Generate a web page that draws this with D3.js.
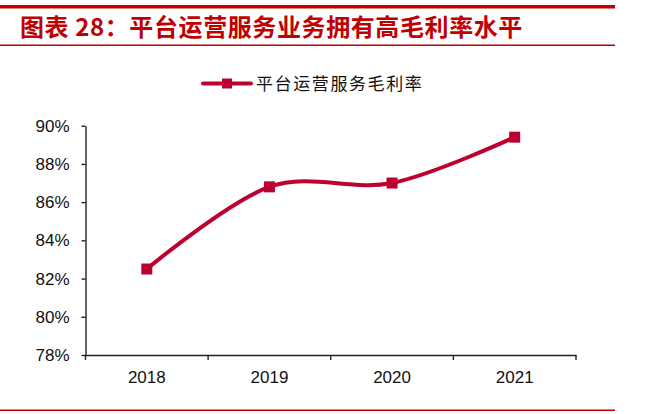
<!DOCTYPE html>
<html>
<head>
<meta charset="utf-8">
<script src="https://cdn.jsdelivr.net/npm/d3@7/dist/d3.min.js"></script>
<style>
  html, body { margin: 0; padding: 0; background: #fff; }
  svg { display: block; }
</style>
</head>
<body>
<svg id="chart" width="668" height="414"></svg>
<script>
const titleText = "图表 28：平台运营服务业务拥有高毛利率水平";
const seriesName = "平台运营服务毛利率";
const years = ["2018", "2019", "2020", "2021"];
const margins = [0.825, 0.868, 0.870, 0.894];
const yTicks = [0.78, 0.80, 0.82, 0.84, 0.86, 0.88, 0.90];

const red = "#C00000";
const lineColor = "#BE0030";
const axisColor = "#222";

const svg = d3.select("#chart");

// header / footer rules
svg.append("rect").attr("x", 0).attr("y", 5).attr("width", 615).attr("height", 3.5).attr("fill", red);
svg.append("rect").attr("x", 0).attr("y", 44.5).attr("width", 615).attr("height", 1.5).attr("fill", red);
svg.append("rect").attr("x", 0).attr("y", 409.5).attr("width", 615).attr("height", 1.5).attr("fill", red);

svg.append("text")
  .attr("x", 20).attr("y", 35.5)
  .attr("fill", red)
  .style("font-family", "'Noto Sans CJK SC', sans-serif")
  .style("font-weight", "bold")
  .style("font-size", "24px")
  .style("letter-spacing", "0.6px")
  .text(titleText);

// scales
const x = d3.scaleBand().domain(years).range([85.5, 576]);
const y = d3.scaleLinear().domain([0.78, 0.90]).range([355, 125.7]);

// y axis
const yAxis = svg.append("g")
  .attr("transform", "translate(85.5,0)")
  .call(d3.axisLeft(y).tickValues(yTicks).tickFormat(d3.format(".0%")).tickSize(4).tickSizeOuter(0).tickPadding(12));
yAxis.select(".domain").attr("stroke", axisColor).attr("stroke-width", 1.4);
yAxis.selectAll(".tick line").attr("stroke", axisColor).attr("stroke-width", 1.4);
yAxis.selectAll(".tick text")
  .attr("fill", "#111")
  .style("font-family", "'Liberation Sans', Arial, sans-serif")
  .style("font-size", "17px");

// x axis
const xAxis = svg.append("g")
  .attr("transform", "translate(0,355)")
  .call(d3.axisBottom(x).tickSize(0).tickSizeOuter(0).tickPadding(16));
xAxis.select(".domain").attr("stroke", axisColor).attr("stroke-width", 1.4);
xAxis.selectAll(".tick text")
  .attr("fill", "#111")
  .style("font-family", "'Liberation Sans', Arial, sans-serif")
  .style("font-size", "17px");
const edges = years.map(d => x(d)).concat([x.range()[1]]);
xAxis.selectAll(".edge").data(edges).enter().append("line")
  .attr("x1", d => d).attr("x2", d => d)
  .attr("y1", 0).attr("y2", 5)
  .attr("stroke", axisColor).attr("stroke-width", 1.4);

// data
const data = years.map((yr, i) => ({ year: yr, v: margins[i] }));
const cx = d => x(d.year) + x.bandwidth() / 2;

const line = d3.line()
  .x(cx)
  .y(d => y(d.v))
  .curve(d3.curveCardinal.tension(0));

svg.append("path")
  .datum(data)
  .attr("d", line)
  .attr("fill", "none")
  .attr("stroke", lineColor)
  .attr("stroke-width", 4)
  .attr("stroke-linecap", "round");

const ms = 11;
svg.selectAll(".marker").data(data).enter().append("rect")
  .attr("x", d => cx(d) - ms / 2)
  .attr("y", d => y(d.v) - ms / 2)
  .attr("width", ms).attr("height", ms)
  .attr("fill", lineColor);

// legend
const lg = svg.append("g");
lg.append("line")
  .attr("x1", 203).attr("x2", 251).attr("y1", 83.5).attr("y2", 83.5)
  .attr("stroke", lineColor).attr("stroke-width", 4).attr("stroke-linecap", "round");
lg.append("rect")
  .attr("x", 222).attr("y", 78.5).attr("width", 10).attr("height", 10)
  .attr("fill", lineColor);
lg.append("text")
  .attr("x", 256).attr("y", 89.5)
  .attr("fill", "#111")
  .style("font-family", "'Noto Sans CJK SC', sans-serif")
  .style("font-size", "17px")
  .style("letter-spacing", "1.6px")
  .text(seriesName);
</script>
</body>
</html>
